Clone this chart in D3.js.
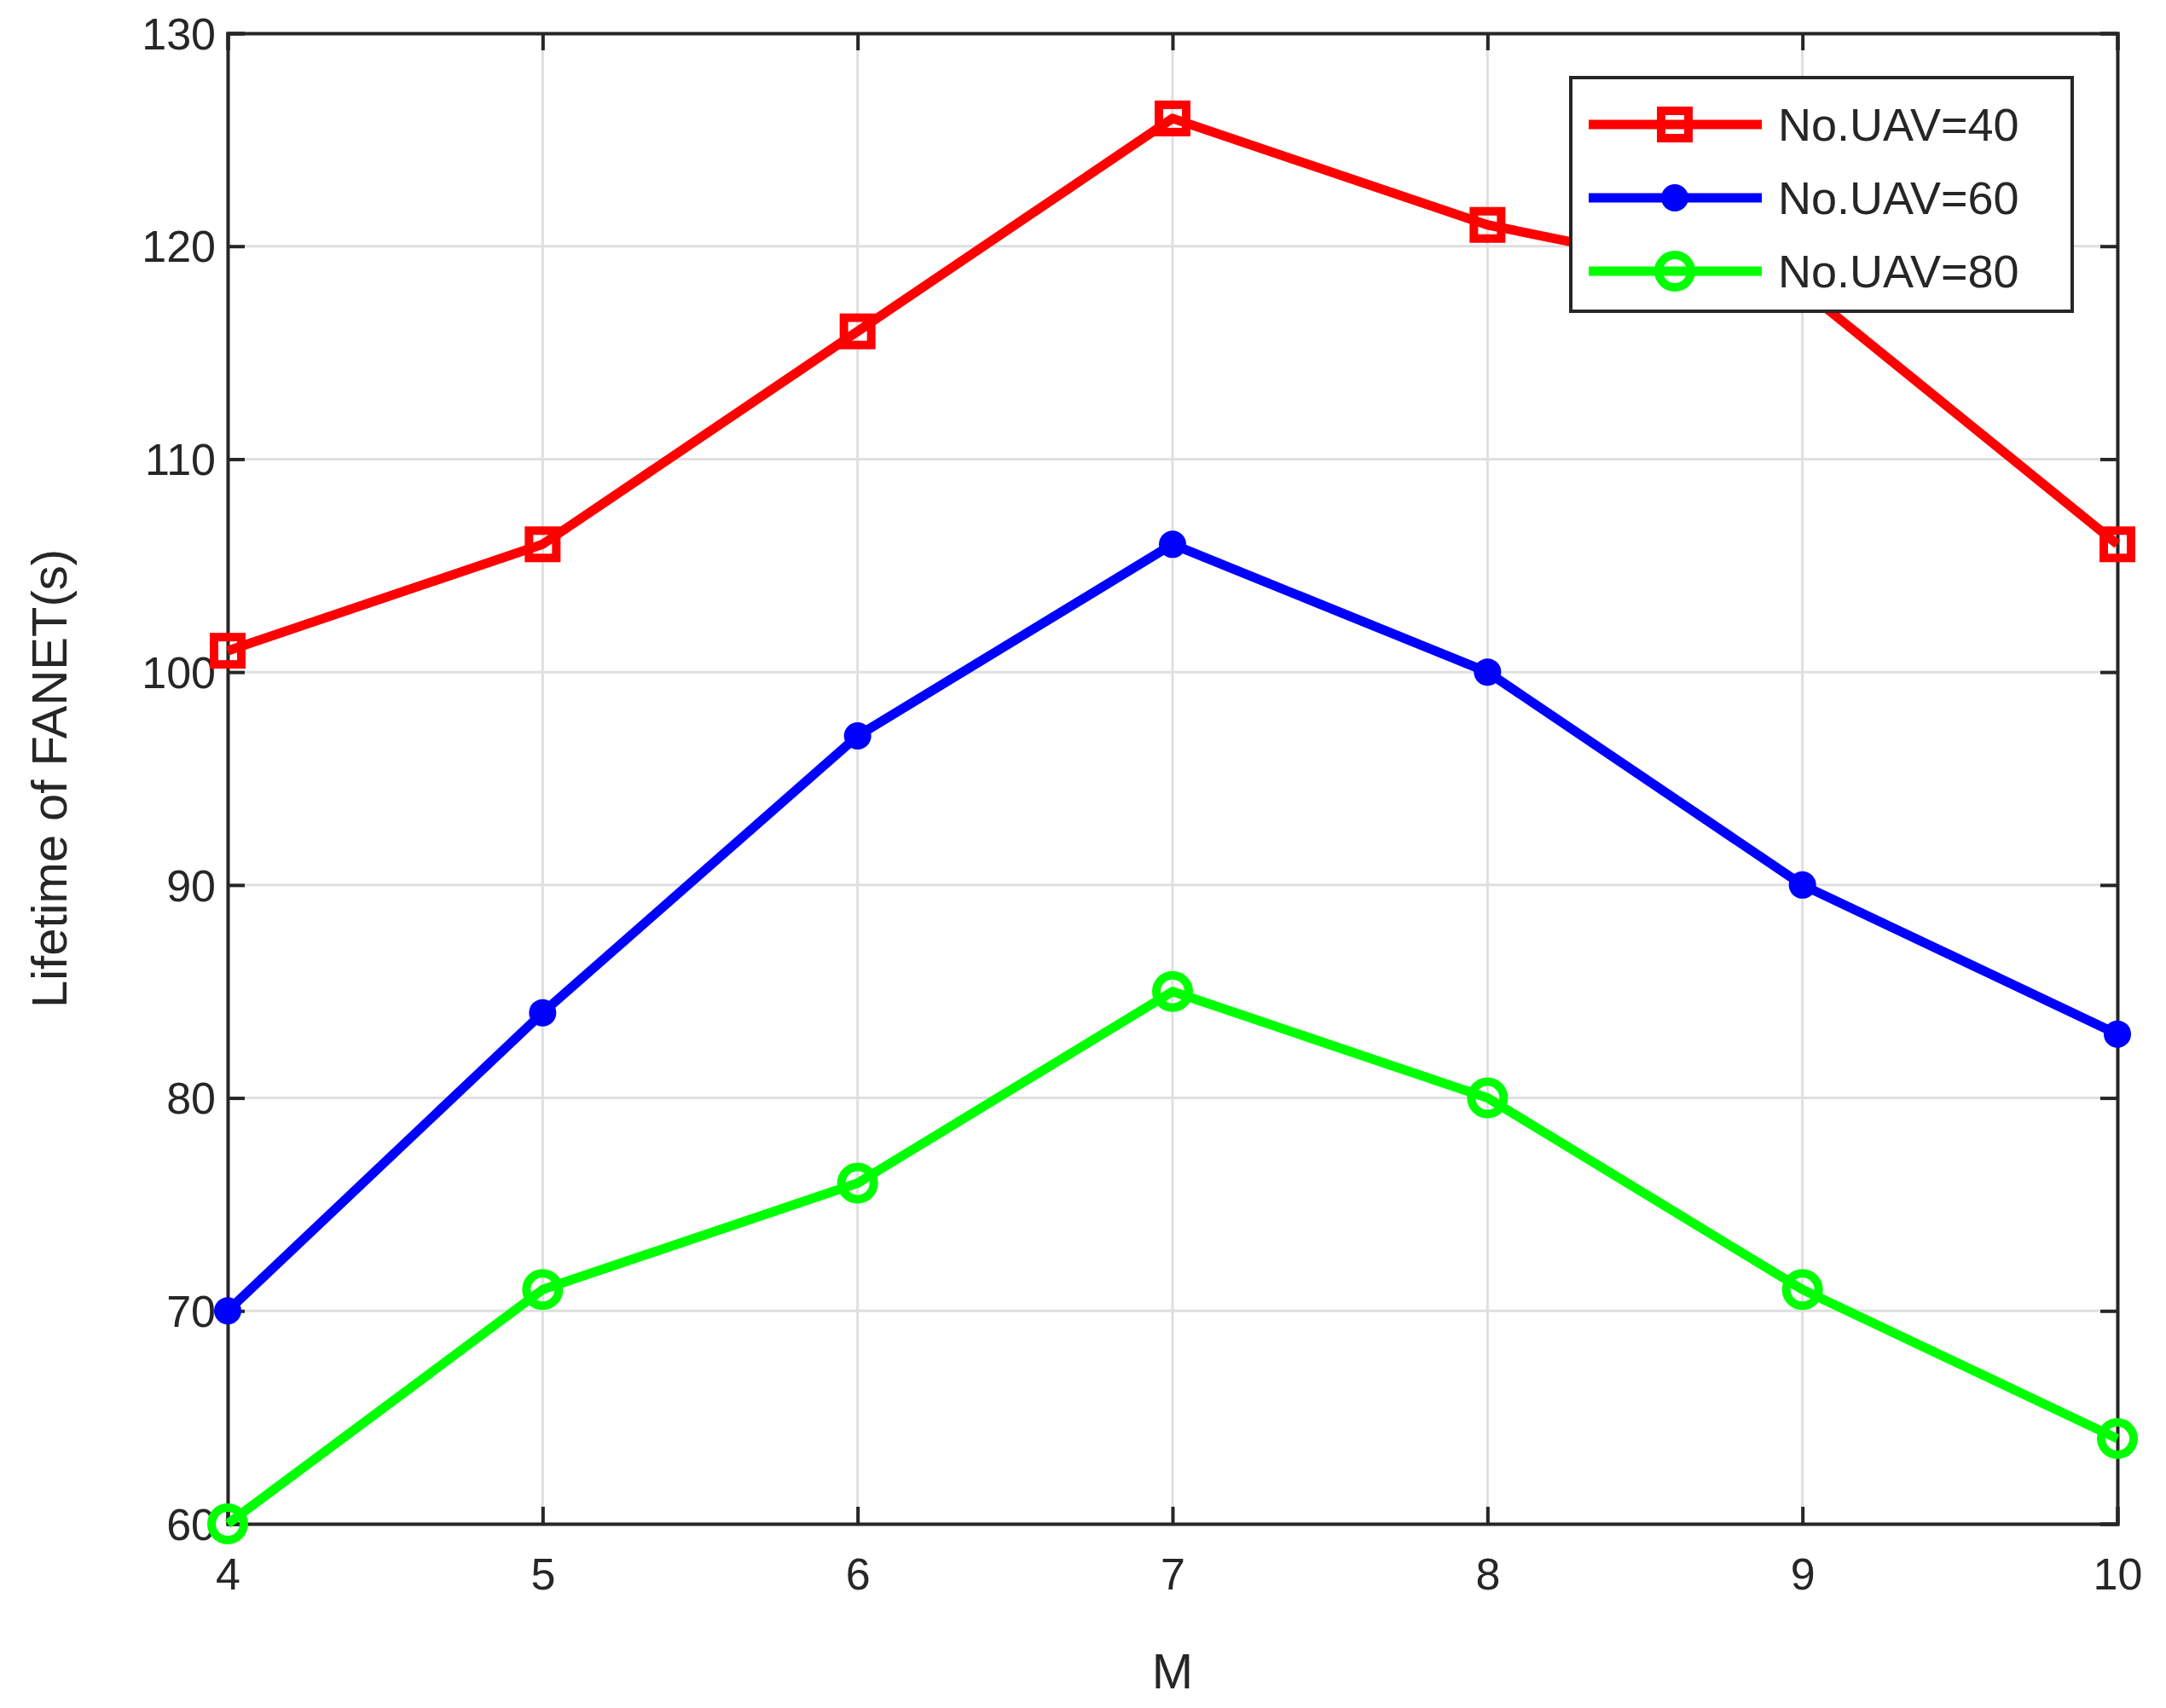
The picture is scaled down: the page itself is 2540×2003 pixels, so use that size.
<!DOCTYPE html>
<html><head><meta charset="utf-8">
<script src="https://cdn.jsdelivr.net/npm/d3@7"></script>
<style>body{margin:0;background:#fff}text{font-family:"Liberation Sans",Arial,sans-serif;fill:#262626}</style>
</head><body>
<script>
const mValues = [4, 5, 6, 7, 8, 9, 10];
const uav40 = [101, 106, 116, 126, 121, 118, 106];
const uav60 = [70, 84, 97, 106, 100, 90, 83];
const uav80 = [60, 71, 76, 85, 80, 71, 64];
const yTicks = [60, 70, 80, 90, 100, 110, 120, 130];
const seriesNames = ["No.UAV=40", "No.UAV=60", "No.UAV=80"];

const W = 2540, H = 2003;
const m = {left: 267, right: 2483, top: 39, bottom: 1787};
const svg = d3.select("body").append("svg").attr("width", W).attr("height", H);

const x = d3.scaleLinear().domain([4, 10]).range([m.left, m.right]);
const y = d3.scaleLinear().domain([60, 130]).range([m.bottom, m.top]);

// grid
svg.append("g").selectAll("line").data(mValues).enter().append("line")
  .attr("x1", d => x(d)).attr("x2", d => x(d)).attr("y1", m.top).attr("y2", m.bottom)
  .attr("stroke", "#dfdfdf").attr("stroke-width", 3);
svg.append("g").selectAll("line").data(yTicks).enter().append("line")
  .attr("y1", d => y(d)).attr("y2", d => y(d)).attr("x1", m.left).attr("x2", m.right)
  .attr("stroke", "#dfdfdf").attr("stroke-width", 3);

// axes
const tl = 20;
const ax = svg.append("g").attr("transform", `translate(0,${m.bottom})`)
  .call(d3.axisBottom(x).tickValues(mValues).tickSize(-tl).tickPadding(30).tickFormat(d3.format("d")));
const ay = svg.append("g").attr("transform", `translate(${m.left},0)`)
  .call(d3.axisLeft(y).tickValues(yTicks).tickSize(-tl).tickPadding(14));
const axT = svg.append("g").attr("transform", `translate(0,${m.top})`)
  .call(d3.axisTop(x).tickValues(mValues).tickSize(-tl).tickFormat(""));
const ayR = svg.append("g").attr("transform", `translate(${m.right},0)`)
  .call(d3.axisRight(y).tickValues(yTicks).tickSize(-tl).tickFormat(""));
[ax, ay, axT, ayR].forEach(g => {
  g.selectAll("path").attr("stroke", "#262626").attr("stroke-width", 4);
  g.selectAll("line").attr("stroke", "#262626").attr("stroke-width", 4);
  g.selectAll("text").attr("font-size", 52).attr("fill", "#262626");
});
ax.selectAll("text").attr("dy", "0.9em");
ay.selectAll("text").attr("dy", "0.35em");

svg.append("text").attr("x", (m.left + m.right) / 2).attr("y", 1980)
  .attr("text-anchor", "middle").attr("font-size", 58).text("M");
svg.append("text").attr("transform", `translate(78,${(m.top + m.bottom) / 2}) rotate(-90)`)
  .attr("text-anchor", "middle").attr("font-size", 58).text("Lifetime of FANET(s)");

const line = d3.line().x((d, i) => x(mValues[i])).y(d => y(d));
const series = [
  {name: seriesNames[0], vals: uav40, color: "#ff0000", mark: "square"},
  {name: seriesNames[1], vals: uav60, color: "#0000ff", mark: "dot"},
  {name: seriesNames[2], vals: uav80, color: "#00ff00", mark: "circle"}
];

function marker(g, cx, cy, s) {
  if (s.mark === "square") {
    g.append("rect").attr("x", cx - 16).attr("y", cy - 16).attr("width", 32).attr("height", 32)
      .attr("fill", "none").attr("stroke", s.color).attr("stroke-width", 10);
  } else if (s.mark === "dot") {
    g.append("circle").attr("cx", cx).attr("cy", cy).attr("r", 16).attr("fill", s.color);
  } else {
    g.append("circle").attr("cx", cx).attr("cy", cy).attr("r", 19)
      .attr("fill", "none").attr("stroke", s.color).attr("stroke-width", 10);
  }
}

series.forEach(s => {
  svg.append("path").datum(s.vals).attr("d", line).attr("fill", "none")
    .attr("stroke", s.color).attr("stroke-width", 11).attr("stroke-linejoin", "round");
  const g = svg.append("g");
  s.vals.forEach((v, i) => marker(g, x(mValues[i]), y(v), s));
});

// legend
const lg = svg.append("g");
lg.append("rect").attr("x", 1842).attr("y", 91).attr("width", 588).attr("height", 274)
  .attr("fill", "#fff").attr("stroke", "#262626").attr("stroke-width", 4);
series.forEach((s, i) => {
  const ly = 146 + i * 86;
  lg.append("line").attr("x1", 1863).attr("x2", 2066).attr("y1", ly).attr("y2", ly)
    .attr("stroke", s.color).attr("stroke-width", 11);
  marker(lg, 1964, ly, s);
  lg.append("text").attr("x", 2085).attr("y", ly).attr("dy", "0.35em")
    .attr("font-size", 54).attr("fill", "#000").text(s.name);
});
</script>
</body></html>
